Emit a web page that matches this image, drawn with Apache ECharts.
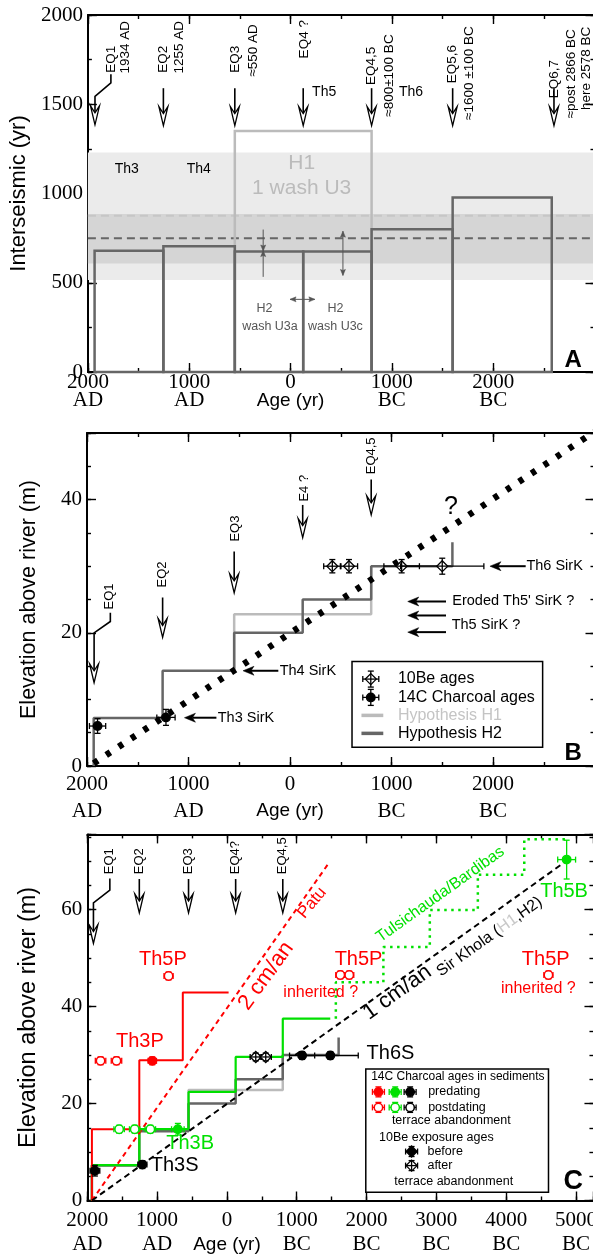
<!DOCTYPE html>
<html>
<head>
<meta charset="utf-8">
<script src="https://cdn.jsdelivr.net/npm/echarts@6/dist/echarts.min.js"></script>
<style>
  html, body { margin: 0; padding: 0; background: #fff; overflow: hidden; }
  #chart { width: 600px; height: 1255px; }
</style>
</head>
<body>
<div id="chart"></div>
<script>
// age axis: AD years are negative, BC years positive (0 = 0 AD/BC)

// ---- panel A : interseismic intervals ----
const eqAges = [-1934, -1255, -550, 125, 800, 1600, 2578];
const intervalsH2 = [679, 705, 675, 675, 800, 978];
const intervalH1 = [-550, 800, 1350];           // start, end, duration
const bandWide = [515, 1230];
const bandNarrow = [608, 885];
const meanH1 = 875;
const meanH2 = 750;

// ---- panel B : terrace heights, Sir Khola ----
const stepH2 = [[-1934, 0], [-1934, 7.2], [-1255, 7.2], [-1255, 14.3], [-550, 14.3], [-550, 20],
  [125, 20], [125, 25], [800, 25], [800, 30], [1600, 30], [1600, 33.6]];
const stepH1 = [[-550, 14.3], [-550, 22.8], [800, 22.8], [800, 30]];
const uplift1cmB = [[-1934, 0.4], [3100, 51.2]];
// [age, elevation, age error, elevation error]
const be10B = [[417, 30, 85, 1], [581, 30, 85, 1], [1100, 30, 175, 1], [1500, 30, 410, 1.2]];
const c14B = [[-1896, 6, 80, 1.1], [-1222, 7.3, 90, 1.2]];

// ---- panel C : all rivers ----
const redStep = [[-1934, 0], [-1934, 14.7], [-1255, 14.7], [-1255, 28.9], [-632, 28.9], [-632, 42.9], [24, 42.9]];
const greenStep = [[-1934, 0], [-1934, 7.3], [-1255, 7.3], [-1255, 14.7], [-550, 14.7], [-550, 22.4],
  [125, 22.4], [125, 29.6], [800, 29.6], [800, 37.5], [1480, 37.5]];
const greenDotted = [[1560, 37.5], [1560, 45], [2241, 45], [2241, 52.3], [2906, 52.3], [2906, 59.9],
  [3594, 59.9], [3594, 67.2], [4259, 67.2], [4259, 74.5], [4852, 74.5]];
const rate2cm = [[-1934, 0], [1450, 69.4]];
const rate1cm = [[-1934, 0], [4830, 69.7]];
const redFilled = [[-1069, 28.8, 60, 0.8]];
const redOpen = [[-1810, 28.8, 75, 0.8], [-1582, 28.8, 75, 0.8], [-836, 46.3, 65, 0.8],
  [1624, 46.5, 65, 0.8], [1752, 46.5, 65, 0.8], [4605, 46.5, 65, 0.8]];
const greenFilled = [[-703, 14.7, 90, 1.2], [4866, 70.3, 128, 4]];
const greenOpen = [[-1544, 14.7, 75, 0.8], [-1321, 14.7, 75, 0.8], [-1097, 14.7, 75, 0.8]];
const blackFilled = [[-1891, 6.15, 70, 1.1], [-1211, 7.4, 65, 0.8], [1077, 29.9, 180, 0.8], [1481, 29.9, 400, 0.8]];
const be10C = [[413, 29.6, 80, 0.8], [556, 29.6, 80, 0.8]];

const SANS = '"Liberation Sans", Arial, sans-serif';
const SERIF = '"Liberation Serif", "Times New Roman", serif';
const RED = '#ff0000', GREEN = '#00e000', DARK = '#666666', LIGHT = '#bbbbbb';

const chart = echarts.init(document.getElementById('chart'), null, {renderer: 'canvas'});

// x tick label: "2000\nAD", "0\nAge (yr)", "1000\nBC"
function ageLabel(v, maxShown) {
  if (v % 1000 !== 0 || v > maxShown) return '';
  if (v === 0) return '{n|0}\n{s|Age (yr)}';
  return v < 0 ? '{n|' + (-v) + '}\n{n|AD}' : '{n|' + v + '}\n{n|BC}';
}

function gridAxes(g, p) {
  const line = {show: true, onZero: false, lineStyle: {color: '#000', width: 2}};
  const noLine = {show: false, onZero: false};
  const tick = len => ({show: true, inside: true, length: len, lineStyle: {color: '#000', width: 1.4}});
  const off = {show: false};
  const xa = (pos, itv, len, lab, ln) => ({gridIndex: g, type: 'value', position: pos, min: p.x[0], max: p.x[1],
    interval: itv, axisLine: ln, axisTick: tick(len), axisLabel: lab, splitLine: off, silent: true});
  const ya = (pos, itv, len, lab, ln, extra) => Object.assign({gridIndex: g, type: 'value', position: pos, min: 0, max: p.yMax,
    interval: itv, axisLine: ln, axisTick: tick(len), axisLabel: lab, splitLine: off, silent: true}, extra || {});
  const xLab = {show: true, margin: p.xMargin, hideOverlap: false, showMaxLabel: true,
    formatter: v => ageLabel(v, p.xLabelMax),
    rich: {n: {fontFamily: SERIF, fontSize: 21, color: '#000', lineHeight: p.xLH},
           s: {fontFamily: SANS, fontSize: 19, color: '#000', lineHeight: p.xLH}}};
  const yLab = {show: true, margin: 5, fontFamily: SERIF, fontSize: 21, color: '#000',
    formatter: v => (v % p.yMajor === 0 ? String(v) : '')};
  return {
    x: [xa('bottom', 1000, 9, xLab, line), xa('bottom', 500, 4, off, noLine),
        xa('top', 1000, 9, off, line), xa('top', 500, 4, off, noLine)],
    y: [ya('left', p.yMajor, 9, yLab, line, {name: p.yName, nameLocation: 'middle', nameGap: p.nameGap,
          nameRotate: 90, nameTextStyle: {fontFamily: SANS, fontSize: p.nameSize, color: '#000'}}),
        ya('left', p.yMinor, 4, off, noLine), ya('right', p.yMajor, 9, off, line), ya('right', p.yMinor, 4, off, noLine)]
  };
}

const axA = gridAxes(0, {x: [-2000, 3000], yMax: 2000, yMajor: 500, yMinor: 250, xLabelMax: 2000,
  xMargin: 1.5, xLH: 18, yName: 'Interseismic (yr)', nameGap: 48, nameSize: 22});
const axB = gridAxes(1, {x: [-2000, 3000], yMax: 50, yMajor: 20, yMinor: 5, xLabelMax: 2000,
  xMargin: 4.5, xLH: 27, yName: 'Elevation above river (m)', nameGap: 47, nameSize: 21.5});
const axC = gridAxes(2, {x: [-2000, 5250], yMax: 75.5, yMajor: 20, yMinor: 5, xLabelMax: 5000,
  xMargin: 8, xLH: 24, yName: 'Elevation above river (m)', nameGap: 47, nameSize: 23.5});

// ---------- drawing helpers (pixel space) ----------
function seg(x1, y1, x2, y2, color, w) {
  return {type: 'line', shape: {x1, y1, x2, y2}, style: {stroke: color, lineWidth: w || 1.3}};
}
function unit(a, b) {
  const dx = b[0] - a[0], dy = b[1] - a[1], l = Math.hypot(dx, dy) || 1;
  return [dx / l, dy / l];
}
function openArrow(pts) {
  const tip = pts[pts.length - 1], d = unit(pts[pts.length - 2], tip), n = [-d[1], d[0]];
  const back = [tip[0] - d[0] * 12, tip[1] - d[1] * 12];
  const shaft = pts.slice(0, -1).concat([back]);
  return {type: 'group', children: [
    {type: 'polyline', shape: {points: shaft}, style: {stroke: '#000', lineWidth: 1.6, fill: null}},
    {type: 'polygon', shape: {points: [tip,
      [tip[0] - d[0] * 19 + n[0] * 4.5, tip[1] - d[1] * 19 + n[1] * 4.5], back,
      [tip[0] - d[0] * 19 - n[0] * 4.5, tip[1] - d[1] * 19 - n[1] * 4.5]]},
     style: {fill: '#fff', stroke: '#000', lineWidth: 1.3}}]};
}
function solidHead(tip, d, len, half, back, color) {
  const n = [-d[1], d[0]];
  return {type: 'polygon', shape: {points: [tip,
    [tip[0] - d[0] * len + n[0] * half, tip[1] - d[1] * len + n[1] * half],
    [tip[0] - d[0] * back, tip[1] - d[1] * back],
    [tip[0] - d[0] * len - n[0] * half, tip[1] - d[1] * len - n[1] * half]]},
    style: {fill: color, stroke: color, lineWidth: 0.5}};
}
function pointerArrow(tail, tip) {
  const d = unit(tail, tip);
  return {type: 'group', children: [seg(tail[0], tail[1], tip[0] - d[0] * 8, tip[1] - d[1] * 8, '#000', 2),
    solidHead(tip, d, 11, 4.5, 8, '#000')]};
}
function grayArrow(a, b, both) {
  const c = '#555', d = unit(a, b), kids = [seg(a[0], a[1], b[0], b[1], c, 1)];
  kids.push(solidHead(b, d, 6, 2.5, 5, c));
  if (both) kids.push(solidHead(a, [-d[0], -d[1]], 6, 2.5, 5, c));
  return {type: 'group', children: kids};
}
// data point with error bars; kind: dot | ring | dia | diaFill
function marker(cx, cy, hw, hh, color, kind) {
  const cap = 3, w = 1.3;
  const bars = [
    seg(cx - hw, cy, cx + hw, cy, color, w), seg(cx - hw, cy - cap, cx - hw, cy + cap, color, w),
    seg(cx + hw, cy - cap, cx + hw, cy + cap, color, w),
    seg(cx, cy - hh, cx, cy + hh, color, w), seg(cx - cap, cy - hh, cx + cap, cy - hh, color, w),
    seg(cx - cap, cy + hh, cx + cap, cy + hh, color, w)];
  if (kind === 'dot' || kind === 'ring') {
    bars.push({type: 'circle', shape: {cx, cy, r: 4.2},
      style: {fill: kind === 'dot' ? color : '#fff', stroke: color, lineWidth: 1.5}});
    return bars;
  }
  const r = 5.5;
  const dia = {type: 'polygon', shape: {points: [[cx, cy - r], [cx + r, cy], [cx, cy + r], [cx - r, cy]]},
    style: {fill: kind === 'diaFill' ? color : '#fff', stroke: color, lineWidth: 1.3}};
  return [dia].concat(bars);
}

function drawAnn(a, api) {
  const P = (x, y) => api.coord([x, y]);
  if (a.k === 'text') {
    const p = P(a.x, a.y);
    const al = a.align || 'center', va = a.valign || 'middle';
    return {type: 'text', x: p[0], y: p[1], rotation: (a.rot || 0) * Math.PI / 180,
      style: {text: a.t, fill: a.color || '#000', fontSize: a.size || 13, fontFamily: a.font || SANS,
        fontWeight: a.weight || 'normal', align: al, verticalAlign: va, textAlign: al, textVerticalAlign: va,
        rich: a.rich}};
  }
  if (a.k === 'eq') return openArrow(a.pts.map(q => P(q[0], q[1])));
  if (a.k === 'ptr') return pointerArrow(P(a.x, a.y), P(a.tip, a.y));
  if (a.k === 'gray') return grayArrow(P(a.pts[0][0], a.pts[0][1]), P(a.pts[1][0], a.pts[1][1]), a.both);
  if (a.k === 'rect') {
    const p1 = P(a.x, a.y), p2 = P(a.x2, a.y2);
    return {type: 'rect', shape: {x: p1[0], y: p1[1], width: p2[0] - p1[0], height: p2[1] - p1[1]},
      style: {fill: '#fff', stroke: '#000', lineWidth: 1.5}};
  }
  if (a.k === 'seg') {
    const p1 = P(a.x, a.y), p2 = P(a.x2, a.y);
    return seg(p1[0], p1[1], p2[0], p2[1], a.color, 3.5);
  }
  if (a.k === 'sym') {
    const p = P(a.x, a.y);
    return {type: 'group', children: marker(p[0], p[1], a.hw || 8, a.hh || 8, a.color, a.kind)};
  }
  return null;
}

const T = (x, y, t, o) => Object.assign({k: 'text', x, y, t}, o || {});
const V = (x, y, t, o) => T(x, y, t, Object.assign({rot: 90, align: 'left', valign: 'middle', size: 13.5}, o || {}));
const EQ = pts => ({k: 'eq', x: pts[0][0], y: pts[0][1], pts});
const down = (x, y1, y2) => EQ([[x, y1], [x, y2]]);
const PTR = (x, tip, y) => ({k: 'ptr', x, tip, y});

// ---------- annotations ----------
const annA = [
  V(-1773, 1677, 'EQ1'), V(-1627, 1672, '1934 AD'),
  V(-1255, 1677, 'EQ2'), V(-1103, 1672, '1255 AD'),
  V(-550, 1677, 'EQ3'), V(-365, 1655, '\u2248550 AD'),
  V(138, 1757, 'EQ4 ?'),
  V(800, 1608, 'EQ4,5'), V(975, 1430, '\u2248800\u00b1100 BC'),
  V(1600, 1617, 'EQ5,6'), V(1764, 1412, '\u22481600 \u00b1100 BC'),
  V(2601, 1533, 'EQ6,7'), V(2775, 1421, '\u2248post 2866 BC'), V(2923, 1468, 'here 2578 BC'),
  EQ([[-1773, 1668], [-1773, 1620], [-1930, 1544], [-1930, 1385]]),
  down(-1255, 1590, 1380), down(-550, 1590, 1380), down(125, 1590, 1380),
  down(800, 1590, 1380), down(1600, 1590, 1380), down(2600, 1590, 1380),
  T(332, 1570, 'Th5', {size: 14}), T(1189, 1570, 'Th6', {size: 14}),
  T(-1617, 1134, 'Th3', {size: 14}), T(-906, 1134, 'Th4', {size: 14}),
  T(110, 1169, 'H1', {size: 21, color: LIGHT}), T(110, 1029, '1 wash U3', {size: 21, color: LIGHT}),
  T(-258, 356, 'H2', {size: 12.5, color: '#555'}), T(-203, 257, 'wash U3a', {size: 12.5, color: '#555'}),
  T(443, 356, 'H2', {size: 12.5, color: '#555'}), T(443, 257, 'wash U3c', {size: 12.5, color: '#555'}),
  {k: 'gray', x: -270, y: 798, pts: [[-270, 798], [-270, 678]]},
  {k: 'gray', x: -270, y: 533, pts: [[-270, 533], [-270, 680]]},
  {k: 'gray', x: 517, y: 789, pts: [[517, 789], [517, 541]], both: true},
  {k: 'gray', x: -5, y: 407, pts: [[-5, 407], [240, 407]], both: true},
  T(2790, 67, 'A', {size: 24, weight: 'bold'})
];

const annB = [
  V(-1783, 23.5, 'EQ1', {size: 13}), V(-1261, 26.8, 'EQ2', {size: 13}), V(-542, 33.7, 'EQ3', {size: 13}),
  V(138, 39.7, 'E4 ?', {size: 13}), V(800, 43.8, 'EQ4,5', {size: 13}),
  EQ([[-1770, 23], [-1770, 21.7], [-1930, 20], [-1930, 12.5]]),
  down(-1255, 25.3, 19.3), down(-550, 32.2, 26), down(125, 39.2, 34.3), down(800, 43, 37.7),
  PTR(-725, -1040, 7.25), T(-712, 7.25, 'Th3 SirK', {align: 'left', size: 14.5}),
  PTR(-115, -463, 14.3), T(-102, 14.3, 'Th4 SirK', {align: 'left', size: 14.5}),
  PTR(1537, 1160, 24.7), T(1599, 24.7, 'Eroded Th5\' SirK ?', {align: 'left', size: 14.5}),
  PTR(1537, 1160, 22.6), PTR(1537, 1160, 20.1), T(1593, 21.2, 'Th5 SirK ?', {align: 'left', size: 14.5}),
  PTR(2322, 1970, 30), T(2329, 30, 'Th6 SirK', {align: 'left', size: 14.5}),
  T(1586, 38.8, '?', {size: 25}),
  {k: 'rect', x: 611, y: 15.7, x2: 2489, y2: 2.8},
  {k: 'sym', x: 796, y: 13.05, color: '#000', kind: 'dia'},
  {k: 'sym', x: 796, y: 10.3, color: '#000', kind: 'dot'},
  {k: 'seg', x: 704, x2: 919, y: 7.6, color: LIGHT},
  {k: 'seg', x: 704, x2: 919, y: 4.9, color: DARK},
  T(1063, 13.05, '10Be ages', {align: 'left', size: 16}),
  T(1063, 10.3, '14C Charcoal ages', {align: 'left', size: 16}),
  T(1063, 7.6, 'Hypothesis H1', {align: 'left', size: 16, color: '#c4c4c4'}),
  T(1063, 4.9, 'Hypothesis H2', {align: 'left', size: 16}),
  T(2790, 1.9, 'B', {size: 24, weight: 'bold'})
];

const annC = [
  V(-1677, 67.3, 'EQ1', {size: 13}), V(-1255, 67.3, 'EQ2', {size: 13}), V(-550, 67.3, 'EQ3', {size: 13}),
  V(125, 67.3, 'EQ4?', {size: 13}), V(800, 67.3, 'EQ4,5', {size: 13}),
  EQ([[-1677, 66.4], [-1677, 64], [-1912, 61.4], [-1912, 53]]),
  down(-1255, 66.3, 59.3), down(-550, 66.3, 59.3), down(125, 66.3, 59.3), down(800, 66.3, 59.3),
  T(-917, 49.7, 'Th5P', {size: 20, color: RED}),
  T(-1247, 32.8, 'Th3P', {size: 20, color: RED}),
  T(-527, 11.7, 'Th3B', {size: 20, color: GREEN}),
  T(-750, 7.3, 'Th3S', {size: 20}),
  T(2343, 30.3, 'Th6S', {size: 20}),
  T(1885, 49.8, 'Th5P', {size: 20, color: RED}),
  T(1343, 42.9, 'inherited ?', {size: 16, color: RED}),
  T(4567, 49.8, 'Th5P', {size: 20, color: RED}),
  T(4460, 43.6, 'inherited ?', {size: 16, color: RED}),
  T(4829, 63.8, 'Th5B', {size: 20, color: GREEN}),
  T(560, 46.3, '2 cm/an', {size: 22, color: RED, rot: 54}),
  T(1220, 61.4, 'Patu', {size: 17, color: RED, rot: 50}),
  T(2440, 42.9, '1 cm/an', {size: 22, rot: 35.5}),
  T(3760, 54.4, '{a|Sir Khola (}{b|H1}{a|,H2)}', {size: 16, rot: 35.5,
    rich: {a: {fill: '#000', color: '#000', fontSize: 16, fontFamily: SANS},
           b: {fill: '#c8c8c8', color: '#c8c8c8', fontSize: 16, fontFamily: SANS}}}),
  T(3057, 63.1, 'Tulsichauda/Bardibas', {size: 16, color: GREEN, rot: 35.5}),
  {k: 'rect', x: 1989, y: 27.1, x2: 4606, y2: 1.7},
  T(3308, 25.5, '14C Charcoal ages in sediments', {size: 12}),
  {k: 'sym', x: 2170, y: 22.4, color: RED, kind: 'dot', hw: 6, hh: 5},
  {k: 'sym', x: 2410, y: 22.4, color: GREEN, kind: 'dot', hw: 6, hh: 5},
  {k: 'sym', x: 2624, y: 22.4, color: '#000', kind: 'dot', hw: 6, hh: 5},
  {k: 'sym', x: 2170, y: 19.2, color: RED, kind: 'ring', hw: 6, hh: 5},
  {k: 'sym', x: 2410, y: 19.2, color: GREEN, kind: 'ring', hw: 6, hh: 5},
  {k: 'sym', x: 2624, y: 19.2, color: '#000', kind: 'ring', hw: 6, hh: 5},
  T(2882, 22.4, 'predating', {align: 'left', size: 12.5}),
  T(2882, 19.2, 'postdating', {align: 'left', size: 12.5}),
  T(3214, 16.4, 'terrace abandonment', {size: 12.5}),
  T(3000, 13.0, '10Be exposure ages', {size: 12.5}),
  {k: 'sym', x: 2645, y: 10.1, color: '#000', kind: 'diaFill', hw: 6, hh: 5},
  {k: 'sym', x: 2645, y: 7.2, color: '#000', kind: 'dia', hw: 6, hh: 5},
  T(2872, 10.1, 'before', {align: 'left', size: 12.5}),
  T(2872, 7.2, 'after', {align: 'left', size: 12.5}),
  T(3248, 4.0, 'terrace abandonment', {size: 12.5}),
  T(4962, 4.0, 'C', {size: 27, weight: 'bold'})
];

// ---------- series ----------
const ax = g => ({xAxisIndex: 4 * g, yAxisIndex: 4 * g});
function pathLine(g, data, color, width, type, z) {
  return Object.assign({type: 'line', data, symbol: 'none', silent: true, z: z || 3,
    lineStyle: {color, width, type: type || 'solid', cap: 'butt'}}, ax(g));
}
function pts(g, data, color, kind) {
  return Object.assign({type: 'custom', data, z: 5, silent: true,
    renderItem: (p, api) => {
      const x = api.value(0), y = api.value(1);
      const c = api.coord([x, y]);
      const hw = Math.abs(api.coord([x + api.value(2), y])[0] - c[0]);
      const hh = Math.abs(api.coord([x, y + api.value(3)])[1] - c[1]);
      return {type: 'group', children: marker(c[0], c[1], hw, hh, color, kind)};
    }}, ax(g));
}
function anns(g, items) {
  return Object.assign({type: 'custom', z: 6, silent: true,
    data: items.map((a, i) => [a.x, a.y, i]),
    renderItem: (p, api) => drawAnn(items[api.value(2)], api)}, ax(g));
}

const series = [
  // A: uncertainty bands
  Object.assign({type: 'custom', z: 1, silent: true, data: [bandWide.concat(0), bandNarrow.concat(1)],
    renderItem: (p, api) => {
      const a = api.coord([-2000, api.value(1)]), b = api.coord([3000, api.value(0)]);
      return {type: 'rect', shape: {x: a[0], y: a[1], width: b[0] - a[0], height: b[1] - a[1]},
        style: {fill: api.value(2) ? '#d5d5d5' : '#ebebeb'}};
    }}, ax(0)),
  pathLine(0, [[-2000, meanH1], [3000, meanH1]], '#c6c6c6', 2, [8, 5], 2),
  pathLine(0, [[-2000, meanH2], [3000, meanH2]], DARK, 2, [8, 5], 2),
  // A: interval boxes
  Object.assign({type: 'custom', z: 3, silent: true,
    data: [intervalH1.concat(1)].concat(intervalsH2.map((h, i) => [eqAges[i], eqAges[i + 1], h, 0])),
    renderItem: (p, api) => {
      const a = api.coord([api.value(0), api.value(2)]), b = api.coord([api.value(1), 0]);
      return {type: 'rect', shape: {x: a[0], y: a[1], width: b[0] - a[0], height: b[1] - a[1]},
        style: {fill: null, stroke: api.value(3) ? LIGHT : DARK, lineWidth: 2.5}};
    }}, ax(0)),
  anns(0, annA),

  // B
  pathLine(1, stepH1, LIGHT, 2.5),
  pathLine(1, stepH2, DARK, 2.5),
  pathLine(1, uplift1cmB, '#000', 6.5, [5, 10], 4),
  pts(1, be10B, '#000', 'dia'),
  pts(1, c14B, '#000', 'dot'),
  anns(1, annB),

  // C
  pathLine(2, stepH1, LIGHT, 2.5),
  pathLine(2, stepH2, DARK, 2.5),
  pathLine(2, greenStep, GREEN, 2.2),
  pathLine(2, greenDotted, GREEN, 2.5, [2.5, 4.5]),
  pathLine(2, redStep, RED, 2),
  pathLine(2, rate2cm, RED, 2, [5, 4], 4),
  pathLine(2, rate1cm, '#000', 2, [6, 4], 4),
  pts(2, be10C, '#000', 'dia'),
  pts(2, blackFilled, '#000', 'dot'),
  pts(2, redOpen, RED, 'ring'),
  pts(2, redFilled, RED, 'dot'),
  pts(2, greenOpen, GREEN, 'ring'),
  pts(2, greenFilled, GREEN, 'dot'),
  anns(2, annC)
];

chart.setOption({
  animation: false,
  backgroundColor: '#fff',
  grid: [
    {left: 87, top: 15, width: 507.5, height: 357},
    {left: 87, top: 433, width: 507.5, height: 333},
    {left: 87.3, top: 834.4, width: 509, height: 368.3}
  ],
  xAxis: axA.x.concat(axB.x, axC.x),
  yAxis: axA.y.concat(axB.y, axC.y),
  series
});
</script>
</body>
</html>
